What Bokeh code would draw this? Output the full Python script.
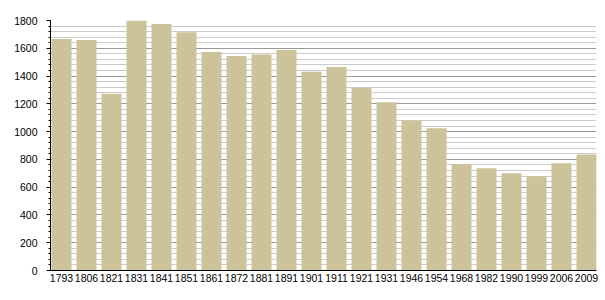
from bokeh.plotting import figure
from bokeh.models import Range1d, FixedTicker, SingleIntervalTicker, ColumnDataSource
from bokeh.embed import file_html
from bokeh.resources import INLINE

years = ["1793", "1806", "1821", "1831", "1841", "1851", "1861", "1872", "1881", "1891",
         "1901", "1911", "1921", "1931", "1946", "1954", "1968", "1982", "1990", "1999",
         "2006", "2009"]
population = [1666, 1659, 1272, 1800, 1775, 1715, 1573, 1544, 1556, 1587,
              1431, 1465, 1315, 1212, 1080, 1024, 765, 736, 700, 678,
              772, 835]

idx = list(range(len(years)))
src = ColumnDataSource(dict(x=idx, top=population, year=years))

p = figure(width=605, height=300, output_backend="svg", toolbar_location=None,
           x_range=Range1d(-0.44, 21.4), y_range=Range1d(0, 1800),
           min_border_left=50, min_border_right=9, min_border_top=20, min_border_bottom=30)
p.outline_line_color = None
p.background_fill_color = "white"

p.vbar(x="x", top="top", width=0.8, source=src, fill_color="#CCC39B", line_color=None)

# grid
p.xgrid.grid_line_color = None
p.yaxis.ticker = SingleIntervalTicker(interval=200, num_minor_ticks=5)
p.ygrid.ticker = p.yaxis.ticker
p.ygrid.grid_line_color = "#999999"
p.ygrid.minor_grid_line_color = "#cccccc"
p.ygrid.level = "underlay"

# y axis
p.yaxis.axis_line_color = "black"
p.yaxis.major_tick_out = 4
p.yaxis.major_tick_in = 0
p.yaxis.minor_tick_out = 2
p.yaxis.minor_tick_in = 0
p.yaxis.major_tick_line_color = "black"
p.yaxis.minor_tick_line_color = "black"
p.yaxis.major_label_standoff = 9
p.yaxis.major_label_text_font = "Liberation Sans"
p.yaxis.major_label_text_font_size = "10.5px"
p.yaxis.major_label_text_color = "black"

# x axis
p.xaxis.ticker = FixedTicker(ticks=idx)
p.xaxis.major_label_overrides = {i: y for i, y in zip(idx, years)}
p.xaxis.axis_line_color = "black"
p.xaxis.major_tick_line_color = None
p.xaxis.minor_tick_line_color = None
p.xaxis.major_tick_out = 0
p.xaxis.major_tick_in = 0
p.xaxis.major_label_standoff = 3
p.xaxis.major_label_text_font = "Liberation Sans"
p.xaxis.major_label_text_font_size = "10.5px"
p.xaxis.major_label_text_color = "black"

open("out.html", "w").write(file_html(p, INLINE))
